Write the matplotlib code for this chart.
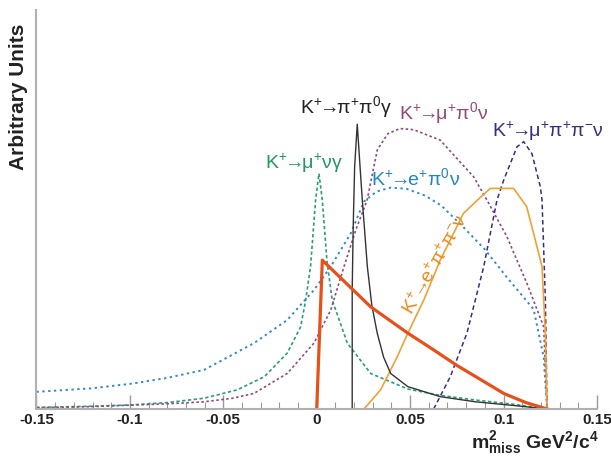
import matplotlib
matplotlib.use('Agg')
import matplotlib.pyplot as plt
from matplotlib.ticker import MultipleLocator

plt.rcParams['font.family'] = ['Liberation Sans', 'DejaVu Sans']
plt.rcParams['mathtext.fontset'] = 'custom'
plt.rcParams['mathtext.rm'] = 'Liberation Sans'
plt.rcParams['mathtext.it'] = 'Liberation Sans:italic'
plt.rcParams['mathtext.bf'] = 'Liberation Sans:bold'
plt.rcParams['mathtext.default'] = 'regular'

# missing mass squared spectra, arbitrary normalisation
sig_x = [0.0, 0.003, 0.0289, 0.0488, 0.062, 0.0751, 0.088, 0.1001, 0.112, 0.1233]
sig_y = [0.0, 0.373, 0.256, 0.190, 0.150, 0.109, 0.073, 0.039, 0.016, 0.0]

pipig_x = [0.019, 0.019, 0.0195, 0.0203, 0.0217, 0.0232, 0.0244, 0.0271, 0.0295,
           0.0324, 0.0358, 0.0396, 0.0488, 0.0661, 0.085, 0.105, 0.1233]
pipig_y = [0.0, 0.30, 0.45, 0.607, 0.714, 0.607, 0.524, 0.357, 0.26,
           0.19, 0.13, 0.089, 0.056, 0.031, 0.018, 0.009, 0.0]

munug_x = [-0.15, -0.12, -0.10, -0.08, -0.0603, -0.0425, -0.028, -0.0158, -0.0086,
           -0.0059, -0.0033, -0.0006, 0.0012, 0.003, 0.0055, 0.0083, 0.0164, 0.0289,
           0.0488, 0.065, 0.084, 0.105, 0.1233]
munug_y = [0.004, 0.007, 0.010, 0.016, 0.027, 0.048, 0.081, 0.14, 0.206,
           0.273, 0.357, 0.524, 0.59, 0.524, 0.37, 0.273, 0.165, 0.089,
           0.05, 0.035, 0.023, 0.012, 0.0]

epinu_x = [-0.15, -0.12, -0.0982, -0.08, -0.0603, -0.0336, -0.0158, -0.0015, 0.0075,
           0.0182, 0.0253, 0.032, 0.0396, 0.048, 0.058, 0.0667, 0.0787, 0.09,
           0.1018, 0.1161, 0.1215, 0.1233]
epinu_y = [0.043, 0.052, 0.064, 0.078, 0.098, 0.165, 0.223, 0.298, 0.357,
           0.44, 0.52, 0.545, 0.555, 0.552, 0.535, 0.51, 0.455, 0.40,
           0.33, 0.25, 0.13, 0.0]

mupinu_x = [-0.15, -0.12, -0.098, -0.08, -0.0603, -0.045, -0.0336, -0.0158, -0.0015,
            0.0075, 0.0146, 0.021, 0.027, 0.0324, 0.038, 0.0446, 0.052, 0.0661,
            0.084, 0.0911, 0.1018, 0.1125, 0.1215, 0.1233]
mupinu_y = [0.003, 0.006, 0.010, 0.013, 0.018, 0.027, 0.039, 0.089, 0.165,
            0.248, 0.357, 0.45, 0.524, 0.649, 0.69, 0.703, 0.70, 0.674,
            0.582, 0.524, 0.432, 0.315, 0.206, 0.0]

mupipi_x = [0.0626, 0.0715, 0.0804, 0.0894, 0.0965, 0.1001, 0.1072, 0.1108,
            0.1152, 0.1197, 0.1206, 0.1224, 0.1233]
mupipi_y = [0.0, 0.081, 0.19, 0.357, 0.524, 0.574, 0.657, 0.67,
            0.64, 0.557, 0.524, 0.273, 0.0]

epipi_x = [0.0253, 0.0342, 0.0431, 0.0488, 0.0573, 0.0661, 0.0785, 0.0875, 0.0929,
           0.1054, 0.1124, 0.1161, 0.1206, 0.1224, 0.1233]
epipi_y = [0.0, 0.048, 0.131, 0.19, 0.273, 0.373, 0.49, 0.53, 0.553,
           0.553, 0.507, 0.44, 0.357, 0.19, 0.0]

xticks = [-0.15, -0.1, -0.05, 0, 0.05, 0.1, 0.15]
xticklabels = ['-0.15', '-0.1', '-0.05', '0', '0.05', '0.1', '0.15']

fig = plt.figure(figsize=(6.11, 4.58), dpi=100)
ax = fig.add_axes([0.0597, 0.107, 0.9173, 0.871])

ax.plot(munug_x, munug_y, color='#2a9d7a', lw=1.2, ls=(0, (2, 1.5)))
ax.plot(epinu_x, epinu_y, color='#2f8cc4', lw=1.4, ls=(0, (1.2, 1.8)))
ax.plot(mupinu_x, mupinu_y, color='#8e4a7e', lw=1.2, ls=(0, (1.5, 1.5)))
ax.plot(mupipi_x, mupipi_y, color='#3a2c80', lw=1.1, ls=(0, (3, 2)))
ax.plot(epipi_x, epipi_y, color='#f0a035', lw=1.2)
ax.plot(pipig_x, pipig_y, color='#333333', lw=1.0)
ax.plot(sig_x, sig_y, color='#e8501a', lw=2.3)

lab = dict(fontsize=14, ha='center', va='center')
arr = r'\!\!\rightarrow\!\!'
ax.text(0.0155, 0.757, r'$K^{+}' + arr + r'π^{+}π^{0}γ$', color='#222222', **lab)
ax.text(0.0681, 0.742, r'$K^{+}' + arr + r'μ^{+}π^{0}ν$', color='#8e4a7e', **lab)
ax.text(0.1238, 0.697, r'$K^{+}' + arr + r'μ^{+}π^{+}π^{-}ν$', color='#3a2c80', **lab)
ax.text(-0.0068, 0.617, r'$K^{+}' + arr + r'μ^{+}νγ$', color='#1f9a5e', **lab)
ax.text(0.0531, 0.579, r'$K^{+}' + arr + r'e^{+}π^{0}ν$', color='#1f86c8', **lab)
ax.text(0.0635, 0.362, r'$K^{+}' + arr + r'e^{+}π^{+}π^{-}ν$', color='#ea8a1c',
        rotation=60, rotation_mode='anchor', **lab)

ax.set_xlim(-0.15, 0.15)
ax.set_ylim(0, 1)
ax.xaxis.set_minor_locator(MultipleLocator(0.01))
ax.set_xticks(xticks)
ax.set_xticklabels(xticklabels)
ax.tick_params(axis='x', which='major', direction='in', length=10, width=1,
               color='#999999', labelsize=11, pad=3)
ax.tick_params(axis='x', which='minor', direction='in', length=5, width=0.8,
               color='#999999')
for t in ax.get_xticklabels():
    t.set_fontweight('bold')
    t.set_color('#222222')
ax.set_yticks([])

for side in ['top', 'right']:
    ax.spines[side].set_visible(False)
for side in ['left', 'bottom']:
    ax.spines[side].set_color('#b0b0b0')
    ax.spines[side].set_linewidth(1.5)

fig.text(0.03, 0.788, 'Arbitrary Units', rotation=90, fontsize=15,
         fontweight='bold', ha='center', va='center', color='#222222')
fig.text(0.98, 0.034, r'$\mathbf{m^2_{miss}}$ $\mathbf{GeV^2/c^4}$', fontsize=14,
         ha='right', va='center', color='#222222')

fig.savefig('out.png', dpi=100)
